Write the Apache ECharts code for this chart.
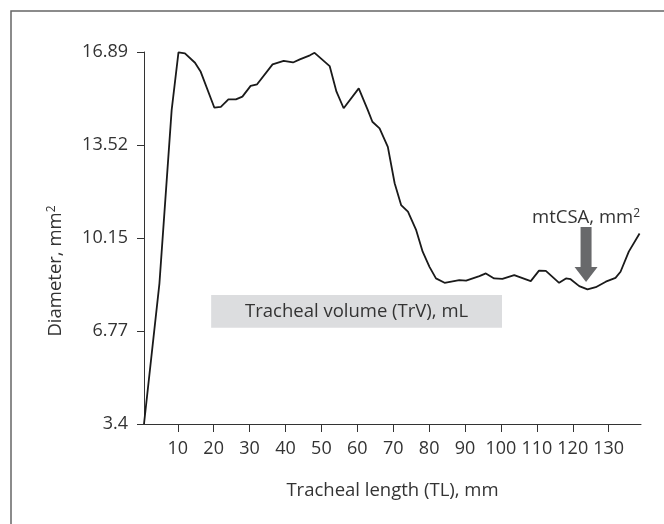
<!DOCTYPE html>
<html>
<head>
<meta charset="utf-8">
<script src="https://cdn.jsdelivr.net/npm/echarts@6/dist/echarts.min.js"></script>
<style>
  html, body { margin: 0; padding: 0; background: #fff; }
  #main { width: 664px; height: 524px; }
</style>
</head>
<body>
<div id="main"></div>
<script>
// tracheal profile
var lengthMm = [0.6, 4.9, 8.3, 10.2, 12.0, 14.8, 16.4, 20.2, 22.0, 24.1, 26.2, 28.0, 30.3, 32.1,
  36.4, 39.5, 42.1, 44.0, 46.8, 48.1, 52.3, 54.2, 56.2, 60.4, 62.9, 64.2, 66.2, 68.5, 70.4,
  72.2, 74.1, 76.4, 78.2, 80.1, 81.9, 84.3, 88.4, 90.3, 94.0, 95.8, 98.1, 100.4, 103.7, 108.3,
  110.6, 112.5, 116.2, 118.1, 119.4, 121.8, 124.1, 126.4, 129.2, 131.9, 133.3, 135.6, 138.6];
var diameter = [3.4, 8.5, 14.78, 16.88, 16.84, 16.5, 16.17, 14.87, 14.9, 15.17, 15.17, 15.27, 15.66, 15.72,
  16.44, 16.57, 16.51, 16.62, 16.77, 16.86, 16.38, 15.45, 14.85, 15.57, 14.79, 14.36, 14.12, 13.45, 12.13,
  11.34, 11.10, 10.43, 9.65, 9.10, 8.68, 8.52, 8.62, 8.60, 8.76, 8.86, 8.68, 8.66, 8.80, 8.58,
  8.96, 8.95, 8.52, 8.68, 8.65, 8.40, 8.28, 8.36, 8.56, 8.70, 8.92, 9.65, 10.31];

var xTicks = [10, 20, 30, 40, 50, 60, 70, 80, 90, 100, 110, 120, 130];
var yTicks = [3.4, 6.77, 10.15, 13.52, 16.89];

// annotation anchors (data coords)
var volumeBox = [[19.3, 8.08], [100.3, 6.89]];
var arrowTop = [123.7, 10.54];
var arrowTip = [123.7, 8.55];

var FONT = '"Open Sans", "Noto Sans", sans-serif';

var points = lengthMm.map(function (x, i) { return [x, diameter[i]]; });

var chart = echarts.init(document.getElementById('main'), null, { renderer: 'canvas' });

var option = {
  animation: false,
  backgroundColor: '#fff',
  grid: { left: 144, right: 23, top: 52, bottom: 100 },
  xAxis: {
    type: 'value',
    min: 0.6,
    max: 139,
    name: 'Tracheal length (TL), mm',
    nameLocation: 'middle',
    nameGap: 57,
    nameTextStyle: { color: '#333', fontSize: 18.5, fontFamily: FONT },
    axisLine: { lineStyle: { color: '#333', width: 1 } },
    axisTick: { show: true, length: 8, customValues: xTicks, lineStyle: { color: '#333' } },
    axisLabel: { customValues: xTicks, margin: 16, color: '#333', fontSize: 18, fontFamily: FONT },
    splitLine: { show: false }
  },
  yAxis: {
    type: 'value',
    min: 3.4,
    max: 16.89,
    axisLine: { show: true, lineStyle: { color: '#333', width: 1 } },
    axisTick: { show: true, length: 7, customValues: yTicks, lineStyle: { color: '#333' } },
    axisLabel: { customValues: yTicks, margin: 16, color: '#333', fontSize: 18, fontFamily: FONT },
    splitLine: { show: false }
  },
  series: [{
    type: 'line',
    data: points,
    symbol: 'none',
    lineStyle: { color: '#1a1a1a', width: 1.8 },
    z: 3,
    markArea: {
      silent: true,
      itemStyle: { color: '#dcdddf' },
      label: {
        show: true,
        position: 'inside',
        color: '#333',
        fontSize: 18.5,
        fontFamily: FONT
      },
      data: [[
        { name: 'Tracheal volume (TrV), mL', coord: volumeBox[0] },
        { coord: volumeBox[1] }
      ]]
    }
  }]
};

chart.setOption(option);

// frame, y name and the mtCSA arrow
var arrowStart = chart.convertToPixel({ gridIndex: 0 }, arrowTop);
var arrowEnd = chart.convertToPixel({ gridIndex: 0 }, arrowTip);
var cx = arrowEnd[0];
var shaftW = 5.5, headW = 11.5, headH = 15;

chart.setOption({
  graphic: [
    {
      type: 'polyline',
      shape: { points: [[11, 524], [11, 11], [664, 11]] },
      style: { stroke: '#666', lineWidth: 1.5, fill: null }
    },
    {
      type: 'text',
      x: 56,
      y: 271,
      rotation: Math.PI / 2,
      style: {
        text: '{a|Diameter, mm}{s|2}',
        align: 'center',
        verticalAlign: 'middle',
        rich: {
          a: { fontSize: 18.5, fontFamily: FONT, fill: '#333' },
          s: { fontSize: 12, fontFamily: FONT, fill: '#333', padding: [0, 0, 9, 0] }
        }
      }
    },
    {
      type: 'polygon',
      shape: {
        points: [
          [cx - shaftW, arrowStart[1]], [cx + shaftW, arrowStart[1]],
          [cx + shaftW, arrowEnd[1] - headH], [cx + headW, arrowEnd[1] - headH],
          [cx, arrowEnd[1]],
          [cx - headW, arrowEnd[1] - headH], [cx - shaftW, arrowEnd[1] - headH]
        ]
      },
      style: { fill: '#68696b' },
      z: 10
    },
    {
      type: 'text',
      x: cx,
      y: arrowStart[1] - 9,
      style: {
        text: '{a|mtCSA, mm}{s|2}',
        align: 'center',
        verticalAlign: 'middle',
        rich: {
          a: { fontSize: 18.5, fontFamily: FONT, fill: '#333' },
          s: { fontSize: 12, fontFamily: FONT, fill: '#333', padding: [0, 0, 9, 0] }
        }
      },
      z: 10
    }
  ]
});
</script>
</body>
</html>
